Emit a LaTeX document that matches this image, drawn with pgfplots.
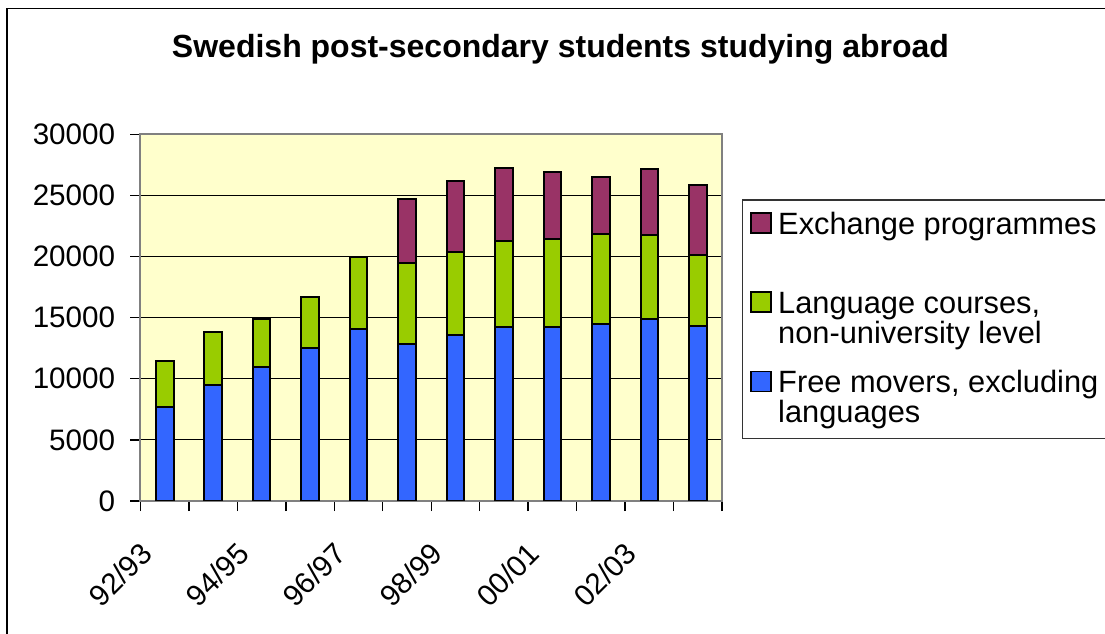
\documentclass[border=0pt]{standalone}
\usepackage{pgfplots}
\usepackage{pgfplotstable}
\pgfplotsset{compat=1.18}
\usepackage{fontspec}
\setmainfont{Liberation Sans}

\definecolor{barblue}{HTML}{3366FF}
\definecolor{bargreen}{HTML}{99CC00}
\definecolor{barplum}{HTML}{993366}
\definecolor{plotbg}{HTML}{FFFFCC}
\definecolor{framegray}{HTML}{808080}

% two-line legend text, baseline on the first line
\newcommand\entry[2]{\vtop{\hbox{#1}\hbox{#2}}}

% legend squares; the bottom entry also reserves room for its second line
\pgfplotsset{
  square legend/.style={legend image code/.code={%
    \draw[##1, line width=0.9pt] (0.5pt,0.5pt) rectangle (10.5pt,10.5pt);}},
  last square legend/.style={legend image code/.code={%
    \path (0pt,-16.7pt);
    \draw[##1, line width=0.9pt] (0.5pt,0.5pt) rectangle (10.5pt,10.5pt);}},
}

% students per academic year (92/93 ... 03/04)
\pgfplotstableread{
x  free  lang  exch
0  7700  3750  0
1  9450  4400  0
2  11000 3900  0
3  12500 4200  0
4  14100 5850  0
5  12850 6650  5200
6  13550 6800  5850
7  14250 7050  5950
8  14200 7250  5500
9  14500 7350  4650
10 14900 6900  5400
11 14350 5750  5750
}\studytable

\begin{document}
\begin{tikzpicture}[x=1pt,y=1pt]
\useasboundingbox (0,0) rectangle (552.5,316.5);
\draw[line width=0.8pt] (3.5,-5) -- (3.5,312.25) -- (560,312.25);
\node[anchor=base, font=\fontsize{16pt}{18pt}\selectfont\bfseries]
  at (280.25,287.85) {Swedish post-secondary students studying abroad};
\begin{axis}[
  at={(70.25pt,66pt)}, anchor=south west,
  width=290.75pt, height=183.35pt, scale only axis,
  ybar stacked, bar width=8.8pt,
  enlargelimits=false,
  xmin=-0.5, xmax=11.5, ymin=0, ymax=30000,
  ytick={0,5000,...,30000},
  scaled y ticks=false,
  /pgf/number format/1000 sep={},
  /pgf/number format/assume math mode=true,
  xtick={-0.5,0.5,...,11.5}, xticklabels={},
  extra x ticks={0,2,4,6,8,10},
  extra x tick labels={92/93,94/95,96/97,98/99,00/01,02/03},
  extra x tick style={major tick length=0pt, grid=none,
    tick label style={font=\fontsize{14.8pt}{14.5pt}\selectfont,
      xshift=-13pt, yshift=-19.5pt, rotate=45, anchor=north east, inner sep=0pt}},
  ticklabel style={font=\fontsize{14.8pt}{14.5pt}\selectfont},
  yticklabel style={anchor=east, inner sep=0pt, xshift=-7.5pt},
  tick align=outside, major tick length=5pt,
  xtick pos=left, ytick pos=left,
  tick style={black, line width=0.7pt},
  axis line style={framegray, line width=1pt},
  axis background/.style={fill=plotbg},
  ymajorgrids, major grid style={black, line width=0.5pt},
  legend style={at={(1.0339,0.8227)}, anchor=north west,
    draw=black!80, line width=0.6pt, fill=white,
    inner xsep=3.5pt, inner ysep=6pt,
    font=\fontsize{15.4pt}{15pt}\selectfont,
    column sep=2pt, row sep=27pt,
    cells={anchor=base west}, nodes={inner sep=0pt, inner xsep=1pt}},
  square legend,
  reverse legend,
]
\addplot[fill=barblue, draw=black, line width=1pt, last square legend]
  table[x=x, y=free] {\studytable};
\addlegendentry{\entry{Free movers, excluding}{languages}}
\addplot[fill=bargreen, draw=black, line width=1pt] table[x=x, y=lang] {\studytable};
\addlegendentry{\entry{Language courses,}{non-university level}}
\addplot[fill=barplum, draw=black, line width=1pt] table[x=x, y=exch] {\studytable};
\addlegendentry{\entry{Exchange programmes}{}}
\end{axis}
\end{tikzpicture}
\end{document}
